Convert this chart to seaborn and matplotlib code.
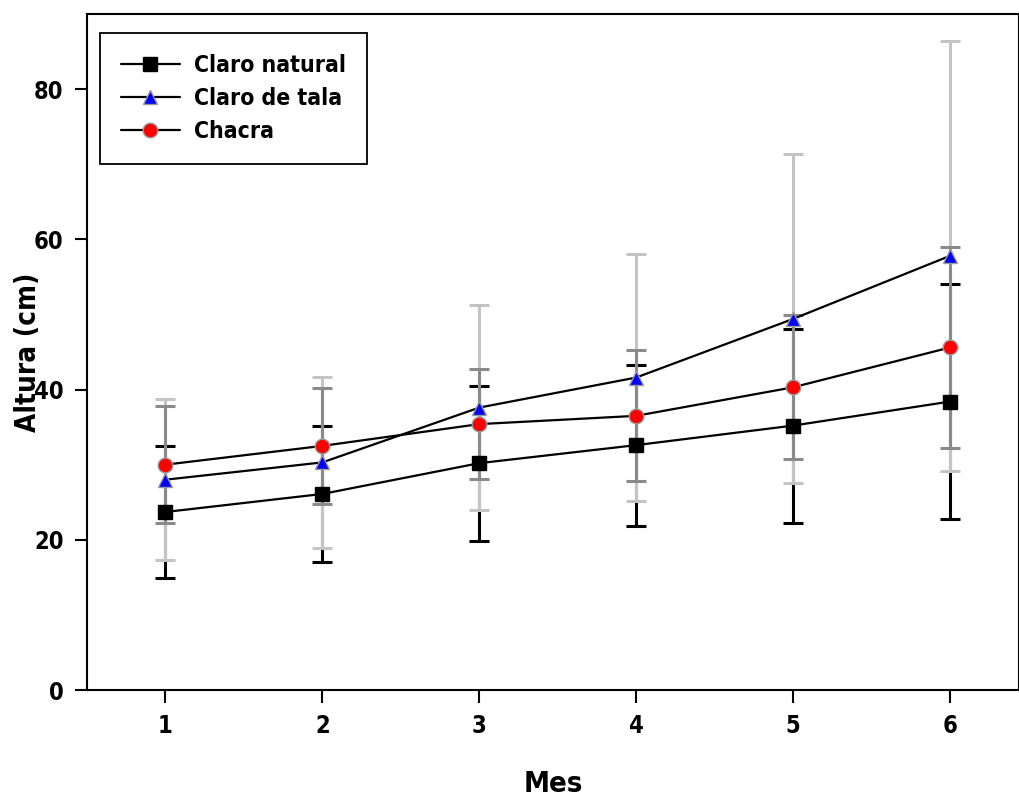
import matplotlib
matplotlib.use("Agg")
import matplotlib.pyplot as plt
import seaborn as sns
import pandas as pd

# Monthly mean height (cm) and standard deviation per site
meses = [1, 2, 3, 4, 5, 6]
claro_natural = [23.7, 26.1, 30.2, 32.6, 35.2, 38.4]
claro_natural_sd = [8.8, 9.1, 10.3, 10.7, 12.9, 15.6]
claro_tala = [28.0, 30.3, 37.6, 41.6, 49.4, 57.8]
claro_tala_sd = [10.7, 11.4, 13.6, 16.5, 21.9, 28.6]
chacra = [30.0, 32.5, 35.4, 36.5, 40.3, 45.6]
chacra_sd = [7.8, 7.7, 7.3, 8.7, 9.6, 13.4]

series = [
    # name, means, sd, marker, face colour, edge colour, error-bar colour
    ("Claro natural", claro_natural, claro_natural_sd, "s", "black", "black", "black"),
    ("Claro de tala", claro_tala, claro_tala_sd, "^", "blue", "#9a9a9a", "#c4c4c4"),
    ("Chacra", chacra, chacra_sd, "o", "red", "#9a9a9a", "#8a8a8a"),
]

sns.set_theme(style="ticks")
plt.rcParams["font.family"] = ["DejaVu Sans"]
plt.rcParams["font.stretch"] = "condensed"
plt.rcParams["font.weight"] = "bold"
plt.rcParams["text.color"] = "black"
plt.rcParams["axes.labelcolor"] = "black"

fig = plt.figure(figsize=(10.19, 8.0), dpi=100)
ax = fig.add_axes([0.0854, 0.1375, 0.9146, 0.845])

# error bars first so the mean lines sit on top
for i, (name, vals, sd, mk, fc, ec, bc) in enumerate(series):
    ax.errorbar(meses, vals, yerr=sd, fmt="none", ecolor=bc, elinewidth=2.2,
                capsize=7.5, capthick=2.2, zorder=2 + i * 0.1)

for name, vals, sd, mk, fc, ec, bc in series:
    df = pd.DataFrame({"Mes": meses, "Altura": vals})
    sns.lineplot(data=df, x="Mes", y="Altura", ax=ax, color="black", linewidth=1.6,
                 marker=mk, markersize=10.5, markerfacecolor=fc, markeredgecolor=ec,
                 markeredgewidth=1.0, label=name, zorder=5)

ax.set_xlim(0.5, 6.44)
ax.set_ylim(0, 90)
ax.set_xticks(meses)
ax.set_yticks([0, 20, 40, 60, 80])
ax.tick_params(axis="both", direction="out", length=9, width=1.5, labelsize=17,
               color="black", labelcolor="black", pad=8)
for lab in ax.get_xticklabels() + ax.get_yticklabels():
    lab.set_fontweight("bold")
for sp in ax.spines.values():
    sp.set_linewidth(1.5)
    sp.set_color("black")

ax.set_xlabel("Mes", fontsize=21, fontweight="bold", labelpad=23, color="black")
ax.set_ylabel("Altura (cm)", fontsize=20, fontweight="bold", color="black")
ax.yaxis.set_label_coords(-0.048, 0.5)

leg = ax.legend(loc="upper left", bbox_to_anchor=(0.014, 0.972), borderaxespad=0,
                fontsize=16.5, frameon=True, fancybox=False, edgecolor="black",
                framealpha=1, handlelength=2.6, borderpad=0.9, labelspacing=0.45,
                handletextpad=0.6)
leg.get_frame().set_linewidth(1.3)
for t in leg.get_texts():
    t.set_fontweight("bold")
    t.set_color("black")

fig.savefig("out.png", dpi=100)
